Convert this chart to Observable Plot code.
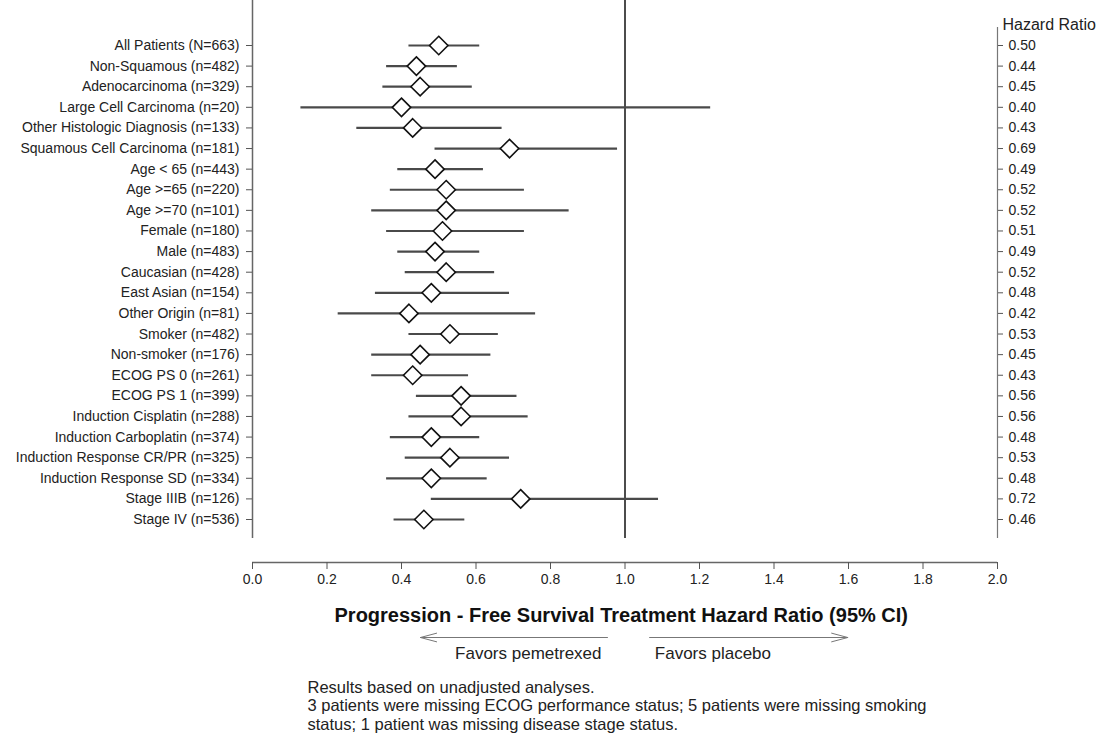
<!DOCTYPE html>
<html>
<head>
<meta charset="utf-8">
<script src="https://cdn.jsdelivr.net/npm/d3@7"></script>
<script src="https://cdn.jsdelivr.net/npm/@observablehq/plot@0.6"></script>
<style>
  html, body { margin: 0; padding: 0; background: white; }
  #chart { width: 1104px; height: 737px; overflow: hidden; }
</style>
</head>
<body>
<div id="chart"></div>
<script>
// ---- data ----
const labels = [
  "All Patients (N=663)",
  "Non-Squamous (n=482)",
  "Adenocarcinoma (n=329)",
  "Large Cell Carcinoma (n=20)",
  "Other Histologic Diagnosis (n=133)",
  "Squamous Cell Carcinoma (n=181)",
  "Age < 65 (n=443)",
  "Age >=65 (n=220)",
  "Age >=70 (n=101)",
  "Female (n=180)",
  "Male (n=483)",
  "Caucasian (n=428)",
  "East Asian (n=154)",
  "Other Origin (n=81)",
  "Smoker (n=482)",
  "Non-smoker (n=176)",
  "ECOG PS 0 (n=261)",
  "ECOG PS 1 (n=399)",
  "Induction Cisplatin (n=288)",
  "Induction Carboplatin (n=374)",
  "Induction Response CR/PR (n=325)",
  "Induction Response SD (n=334)",
  "Stage IIIB (n=126)",
  "Stage IV (n=536)"
];
const hazardRatio = [0.50, 0.44, 0.45, 0.40, 0.43, 0.69, 0.49, 0.52, 0.52, 0.51, 0.49, 0.52,
                     0.48, 0.42, 0.53, 0.45, 0.43, 0.56, 0.56, 0.48, 0.53, 0.48, 0.72, 0.46];
const lowerCI = [0.42, 0.36, 0.35, 0.13, 0.28, 0.49, 0.39, 0.37, 0.32, 0.36, 0.39, 0.41,
                 0.33, 0.23, 0.42, 0.32, 0.32, 0.44, 0.42, 0.37, 0.41, 0.36, 0.48, 0.38];
const upperCI = [0.61, 0.55, 0.59, 1.23, 0.67, 0.98, 0.62, 0.73, 0.85, 0.73, 0.61, 0.65,
                 0.69, 0.76, 0.66, 0.64, 0.58, 0.71, 0.74, 0.61, 0.69, 0.63, 1.09, 0.57];
const xTicks = [0.0, 0.2, 0.4, 0.6, 0.8, 1.0, 1.2, 1.4, 1.6, 1.8, 2.0];
const xTitle = "Progression - Free Survival Treatment Hazard Ratio (95% CI)";
const rightTitle = "Hazard Ratio";
const favorsLeft = "Favors pemetrexed";
const favorsRight = "Favors placebo";
const footnote = [
  "Results based on unadjusted analyses.",
  "3 patients were missing ECOG performance status; 5 patients were missing smoking",
  "status; 1 patient was missing disease stage status."
];

// ---- layout helpers ----
const FONT = "'Liberation Sans', Arial, Helvetica, sans-serif";
const rowTop = 45, rowBottom = 519, nRows = labels.length;
const yAt = p => (p - rowTop) * (nRows - 1) / (rowBottom - rowTop); // pixel -> row coordinate

const rows = labels.map((label, i) => ({
  label, i, hr: hazardRatio[i], lo: lowerCI[i], hi: upperCI[i]
}));
const rowIdx = rows.map(d => d.i);

const chart = Plot.plot({
  width: 1104,
  height: 737,
  marginLeft: 252,
  marginRight: 107,
  marginTop: 0,
  marginBottom: 175,
  x: {domain: [0, 2]},
  y: {domain: [0, nRows - 1], range: [rowTop, rowBottom]},
  style: {fontFamily: FONT, fontSize: "14px", color: "#222", background: "white", overflow: "visible"},
  marks: [
    // axis lines & reference line
    Plot.ruleX([0], {y1: yAt(0), y2: yAt(538), stroke: "#666", strokeWidth: 1.5}),
    Plot.ruleX([2], {y1: yAt(27), y2: yAt(538), stroke: "#777", strokeWidth: 1.2}),
    Plot.ruleY([yAt(562)], {x1: 0, x2: 2, stroke: "#666", strokeWidth: 1.5}),
    Plot.ruleX([1], {y1: yAt(0), y2: yAt(538), stroke: "#111", strokeWidth: 1.5}),
    // confidence intervals
    Plot.ruleY(rows, {y: "i", x1: "lo", x2: "hi", stroke: "#4a4a4a", strokeWidth: 2.2}),
    // hazard ratio diamonds
    Plot.dot(rows, {x: "hr", y: "i", symbol: "diamond2", r: 8.3, fill: "white", stroke: "#111", strokeWidth: 1.6}),
    // axes
    Plot.axisY({anchor: "left", ticks: rowIdx, tickFormat: i => labels[i], tickSize: 6, tickPadding: 7,
                fontSize: 14, label: null, stroke: "#555", fill: "#222"}),
    Plot.axisY({anchor: "right", ticks: rowIdx, tickFormat: i => hazardRatio[i].toFixed(2), tickSize: 5, tickPadding: 6,
                fontSize: 14, label: null, stroke: "#555", fill: "#222"}),
    Plot.axisX({anchor: "bottom", ticks: xTicks, tickFormat: d3.format(".1f"), tickSize: 7, tickPadding: 5,
                fontSize: 14, label: null, stroke: "#555", fill: "#222"}),
    // right-hand header
    Plot.text([rightTitle], {x: 2, y: yAt(24), text: d => d, textAnchor: "start", dx: 5, fontSize: 16, fill: "#222"}),
    // x title
    Plot.text([xTitle], {x: 0.99, y: yAt(615), text: d => d, textAnchor: "middle", fontSize: 20, fontWeight: "bold", fill: "#111"}),
    // favour arrows
    Plot.arrow([{a: 0.953, b: 0.451}, {a: 1.066, b: 1.598}], {x1: "a", x2: "b", y1: yAt(637), y2: yAt(637),
                headAngle: 30, headLength: 25, stroke: "#777", strokeWidth: 1}),
    Plot.text([favorsLeft], {x: 0.937, y: yAt(653), text: d => d, textAnchor: "end", fontSize: 17, fill: "#222"}),
    Plot.text([favorsRight], {x: 1.08, y: yAt(653), text: d => d, textAnchor: "start", fontSize: 17, fill: "#222"}),
    // footnote
    Plot.text(footnote, {x: 0, y: (d, i) => yAt(687 + 18.5 * i), text: d => d, textAnchor: "start", dx: 55,
                fontSize: 16.5, fill: "#222"})
  ]
});
document.getElementById("chart").appendChild(chart);
</script>
</body>
</html>
